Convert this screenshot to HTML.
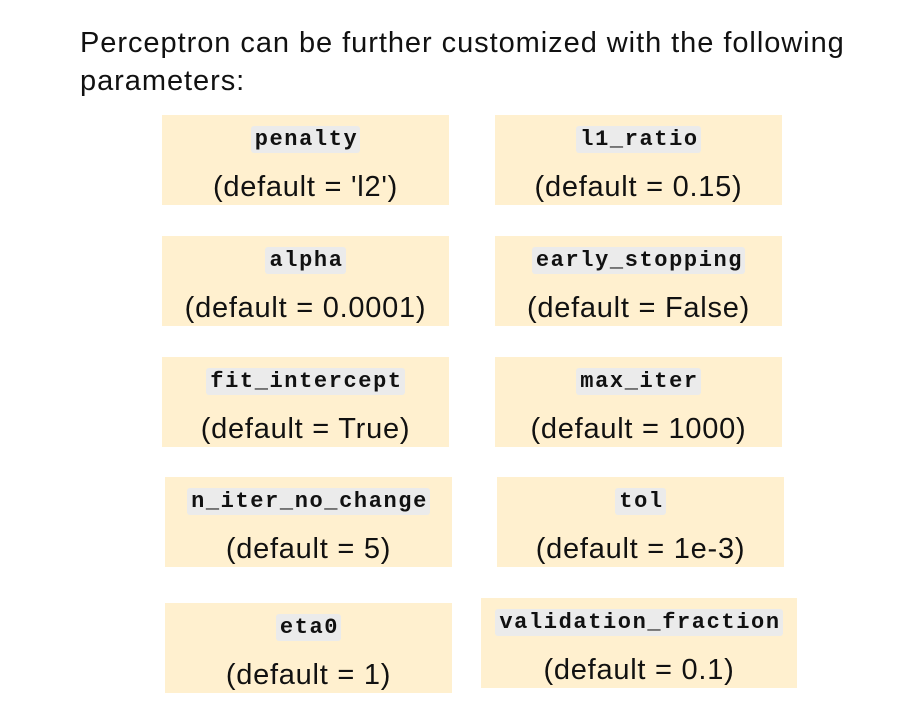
<!DOCTYPE html>
<html><head><style>
body{margin:0;width:910px;height:707px;background:#fff;position:relative;overflow:hidden;font-family:"Liberation Sans",sans-serif;color:#111}
.t{position:absolute;left:80px;top:24px;font-size:29px;line-height:38px;letter-spacing:0.95px;white-space:nowrap}
.b{position:absolute;background:#fff0cf;height:90px}
.c{position:absolute;left:0;right:0;top:12px;text-align:center;line-height:26px}
.c span{font-family:"Liberation Mono",monospace;font-weight:bold;font-size:22px;letter-spacing:1.6px;background:#ebebeb;border-radius:3px;padding:1px 2px 1px 4px}
.d{position:absolute;left:0;right:0;top:55px;text-align:center;font-size:29px;line-height:34px;letter-spacing:0.75px}
</style></head><body>
<div class="t">Perceptron can be further customized with the following<br>parameters:</div>
<div class="b" style="left:162px;top:115px;width:287px"><div class="c"><span>penalty</span></div><div class="d">(default = 'l2')</div></div>
<div class="b" style="left:495px;top:115px;width:287px"><div class="c"><span>l1_ratio</span></div><div class="d">(default = 0.15)</div></div>
<div class="b" style="left:162px;top:236px;width:287px"><div class="c"><span>alpha</span></div><div class="d">(default = 0.0001)</div></div>
<div class="b" style="left:495px;top:236px;width:287px"><div class="c"><span>early_stopping</span></div><div class="d">(default = False)</div></div>
<div class="b" style="left:162px;top:357px;width:287px"><div class="c"><span>fit_intercept</span></div><div class="d">(default = True)</div></div>
<div class="b" style="left:495px;top:357px;width:287px"><div class="c"><span>max_iter</span></div><div class="d">(default = 1000)</div></div>
<div class="b" style="left:165px;top:477px;width:287px"><div class="c"><span>n_iter_no_change</span></div><div class="d">(default = 5)</div></div>
<div class="b" style="left:497px;top:477px;width:287px"><div class="c"><span>tol</span></div><div class="d">(default = 1e-3)</div></div>
<div class="b" style="left:165px;top:603px;width:287px"><div class="c"><span>eta0</span></div><div class="d">(default = 1)</div></div>
<div class="b" style="left:481px;top:598px;width:316px"><div class="c"><span>validation_fraction</span></div><div class="d">(default = 0.1)</div></div>
</body></html>
